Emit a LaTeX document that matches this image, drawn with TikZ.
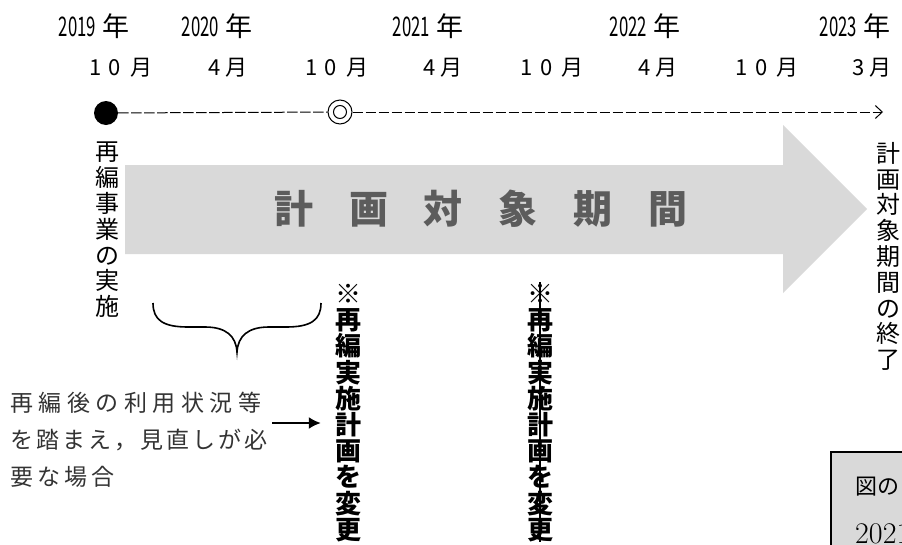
\documentclass[tikz,border=0pt]{standalone}
\usepackage{fontspec}
\usepackage{graphicx}
\usetikzlibrary{arrows.meta}
\newfontfamily\jp{Noto Sans CJK JP}
\definecolor{arrowgray}{RGB}{217,217,217}
\definecolor{titlegray}{RGB}{92,92,92}
\definecolor{boxgray}{RGB}{217,217,217}
\newcommand\yrtxt[1]{\scalebox{0.62}[1]{#1}\hspace{6pt}年}
\newcommand\tenm{1\hspace{7pt}0\hspace{9pt}月}
\newcommand\onem[1]{#1\hspace{5pt}月}
\begin{document}
\begin{tikzpicture}[x=1pt,y=-1pt,
  yr/.style={font=\jp\fontsize{27}{30}\selectfont, inner sep=0},
  mo/.style={font=\jp\fontsize{22}{24}\selectfont, inner sep=0},
  vtxt/.style={font=\jp\fontsize{24}{25.8}\selectfont, align=center, inner sep=0, anchor=north},
  bvtxt/.style={font=\jp\bfseries\fontsize{26}{26.2}\selectfont, align=center, inner sep=0, anchor=north},
  tline/.style={line width=1pt, dash pattern=on 10.5pt off 2.5pt},
]
\useasboundingbox (0,0) rectangle (902,544);
\clip (0,0) rectangle (902,544);

% years
\node[yr] (y19) at (94,26) {\yrtxt{2019}};
\node[yr] (y20) at (217,26) {\yrtxt{2020}};
\node[yr] (y21) at (428,26) {\yrtxt{2021}};
\node[yr] (y22) at (645,26) {\yrtxt{2022}};
\node[yr] (y23) at (855,26) {\yrtxt{2023}};

% months
\node[mo] (m1) at (121,68) {\tenm};
\node[mo] (m2) at (228,68) {\onem{4}};
\node[mo] (m3) at (337,68) {\tenm};
\node[mo] (m4) at (443,68) {\onem{4}};
\node[mo] (m5) at (552,68) {\tenm};
\node[mo] (m6) at (658,68) {\onem{4}};
\node[mo] (m7) at (767,68) {\tenm};
\node[mo] (m8) at (872,68) {\onem{3}};

% timeline
\node[circle, fill=black, minimum size=24pt, inner sep=0] (st) at (106,113) {};
\node[circle, draw=black, line width=1pt, minimum size=24pt, inner sep=0] (mid) at (340,112) {};
\node[circle, draw=black, line width=1pt, minimum size=13pt, inner sep=0] (midin) at (340,112) {};
\coordinate (tend) at (883,112);
\draw[tline] (st) -- (mid);
\draw[tline, -{Straight Barb[length=7pt,width=13pt,line width=1pt]}] (mid) -- (tend);

% big arrow
\fill[arrowgray] (125,165) -- (783,165) -- (783,125) -- (867,209) -- (783,293) -- (783,254) -- (125,254) -- cycle;
\node[font=\jp\bfseries\fontsize{39}{44}\selectfont, text=titlegray, inner sep=0] (ttl) at (481,209)
  {計\hspace{36pt}画\hspace{36pt}対\hspace{36pt}象\hspace{36pt}期\hspace{36pt}間};

% vertical labels
\node[vtxt] (lv) at (107,142) {再\\編\\事\\業\\の\\実\\施};
\node[vtxt] (rv) at (888,142) {計\\画\\対\\象\\期\\間\\の\\終\\了};

% brace
\draw[line width=1.6pt] (153,303) .. controls (153,320) and (163,327) .. (188,327) -- (205,327)
  .. controls (226,327) and (236,336) .. (237,352)
  .. controls (238,336) and (248,327) .. (269,327) -- (286,327)
  .. controls (311,327) and (321,320) .. (321,303);

% bold columns
\node[bvtxt] (c1) at (348,284) {※\\再\\編\\実\\施\\計\\画\\を\\変\\更};
\node[bvtxt] (c2) at (540,284) {※\\再\\編\\実\\施\\計\\画\\を\\変\\更};
\draw[line width=2.6pt] ([yshift=2pt]c2.north) -- (c2.south);

% left text and arrow
\node[font=\jp\fontsize{23}{37}\selectfont, text=black!80, align=left, inner sep=0, anchor=west] (lt) at (10,440)
  {{\addfontfeatures{LetterSpace=24}再編後の利用状況等}\\
   {\addfontfeatures{LetterSpace=13}を踏まえ，見直しが必}\\
   {\addfontfeatures{LetterSpace=18}要な場合}};
\coordinate (aS) at (272,423);
\draw[line width=2pt, -{Latex[length=12pt,width=12pt]}] (aS) -- ([xshift=-14pt]aS -| c1.west);

% note box
\draw[fill=boxgray, line width=1.2pt] (831,452) rectangle (915,560);
\node[font=\jp\fontsize{22}{24}\selectfont, inner sep=0, anchor=west] (bx1) at (855,487) {図の};
\node[font=\rmfamily\fontsize{30}{32}\selectfont, inner sep=0, anchor=base west] (bx2) at (855,543) {2021};
\end{tikzpicture}
\end{document}
